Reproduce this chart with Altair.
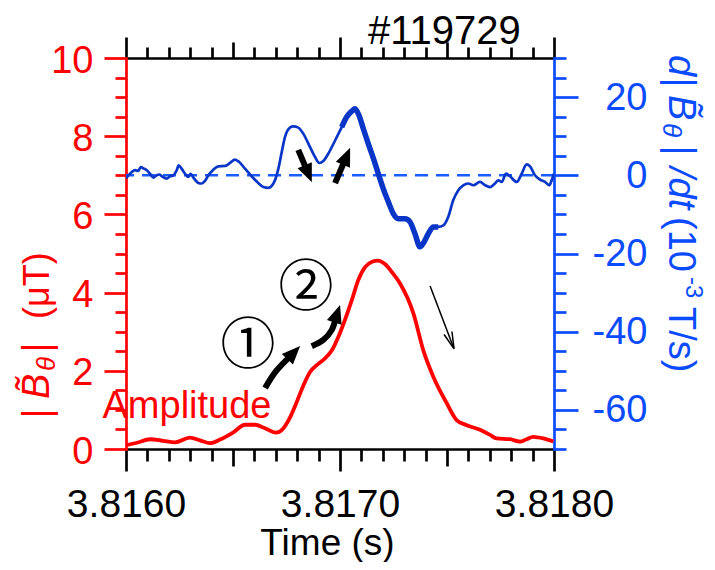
import math
import altair as alt
import pandas as pd

# ---------------- data ----------------
amp_time = [3.816000, 3.816051, 3.816112, 3.816173, 3.816229, 3.816299, 3.816346, 3.816393,
            3.816439, 3.816500, 3.816556, 3.816603, 3.816650, 3.816701, 3.816734, 3.816766,
            3.816794, 3.816827, 3.816860, 3.816897, 3.816930, 3.816963, 3.816991, 3.817023,
            3.817056, 3.817084, 3.817117, 3.817150, 3.817178, 3.817210, 3.817243, 3.817280,
            3.817343, 3.817389, 3.817436, 3.817499, 3.817545, 3.817592, 3.817654, 3.817701,
            3.817732, 3.817794, 3.817841, 3.817872, 3.817903, 3.817950, 3.817997]
amp_value = [0.10, 0.16, 0.25, 0.21, 0.17, 0.29, 0.22, 0.15,
             0.24, 0.42, 0.62, 0.62, 0.53, 0.42, 0.52, 0.80,
             1.15, 1.60, 1.97, 2.17, 2.32, 2.53, 2.85, 3.30,
             3.82, 4.30, 4.65, 4.79, 4.82, 4.73, 4.52, 4.24,
             3.47, 2.53, 1.85, 1.17, 0.74, 0.61, 0.49, 0.36,
             0.27, 0.25, 0.19, 0.25, 0.31, 0.27, 0.19]

dbdt_time = [3.816000, 3.816027, 3.816042, 3.816057, 3.816069, 3.816084, 3.816097, 3.816112,
             3.816128, 3.816143, 3.816156, 3.816167, 3.816178, 3.816190, 3.816206, 3.816221,
             3.816237, 3.816246, 3.816260, 3.816276, 3.816291, 3.816302, 3.816315, 3.816338,
             3.816354, 3.816369, 3.816385, 3.816408, 3.816431, 3.816463, 3.816486, 3.816509,
             3.816529, 3.816556, 3.816587, 3.816618, 3.816642, 3.816665, 3.816696, 3.816712,
             3.816728, 3.816743, 3.816766, 3.816782, 3.816805, 3.816829, 3.816860, 3.816883,
             3.816903, 3.816922, 3.816945, 3.816977, 3.817008, 3.817031, 3.817055, 3.817070,
             3.817089, 3.817109, 3.817132, 3.817156, 3.817179, 3.817202, 3.817226, 3.817249,
             3.817272, 3.817304, 3.817327, 3.817350, 3.817374, 3.817389, 3.817413, 3.817436,
             3.817459, 3.817483, 3.817506, 3.817529, 3.817553, 3.817576, 3.817600, 3.817623,
             3.817654, 3.817678, 3.817701, 3.817724, 3.817740, 3.817756, 3.817776, 3.817794,
             3.817826, 3.817849, 3.817872, 3.817888, 3.817911, 3.817935, 3.817958, 3.817978,
             3.817989, 3.818000]
dbdt_value = [-0.8, 0.85, 1.3, 1.1, 2.1, 1.7, 1.3, 0.4,
              -0.6, 0.0, 0.2, -0.2, -0.6, -0.85, -0.25, 0.0,
              1.3, 2.55, 1.7, 0.4, -0.4, 0.4, -0.6, -1.95,
              -2.1, -1.45, 0.0, 1.45, 2.3, 2.4, 3.15, 4.0,
              3.4, 1.7, -0.25, -1.95, -3.0, -3.2, -1.3, 1.7,
              6.0, 9.8, 12.2, 12.5, 12.2, 10.6, 7.2, 4.7,
              3.15, 3.65, 5.5, 8.9, 12.3, 14.9, 16.4, 17.0,
              15.3, 11.9, 8.1, 4.3, 0.4, -3.4, -6.8, -9.8,
              -11.1, -11.1, -11.9, -14.9, -18.3, -17.4, -14.9, -13.2,
              -13.2, -12.8, -10.6, -6.4, -3.8, -2.55, -2.1, -2.55,
              -1.7, -2.55, -3.0, -2.1, -1.3, -1.7, 0.43, -0.25,
              -1.7, 0.4, 2.8, 2.3, 0.0, -1.1, -1.7, -2.55,
              -1.3, 0.4]

x_tick_values = [3.8160, 3.8161, 3.8162, 3.8163, 3.8164, 3.8165, 3.8166, 3.8167, 3.8168, 3.8169,
                 3.8170, 3.8171, 3.8172, 3.8173, 3.8174, 3.8175, 3.8176, 3.8177, 3.8178, 3.8179,
                 3.8180]
left_tick_values = [0, 0.5, 1, 1.5, 2, 2.5, 3, 3.5, 4, 4.5, 5, 5.5, 6, 6.5, 7, 7.5, 8, 8.5, 9, 9.5, 10]
right_tick_values = [-70, -65, -60, -55, -50, -45, -40, -35, -30, -25, -20, -15, -10, -5,
                     0, 5, 10, 15, 20, 25, 30]

# annotation arrows (time, amplitude-axis units)
arrow1_time = [3.816650, 3.816701, 3.816813]
arrow1_amp = [1.56, 1.99, 2.63]
arrow2_time = [3.816868, 3.816922, 3.816961, 3.817000]
arrow2_amp = [2.63, 2.79, 3.04, 3.68]
arrow3_time = [3.816805, 3.816868]
arrow3_amp = [7.65, 6.83]
arrow4_time = [3.816977, 3.817047]
arrow4_amp = [6.80, 7.70]
arrow5_time = [3.817421, 3.817533]
arrow5_amp = [4.17, 2.56]

thick_from, thick_to = 3.816990, 3.817470

# ---------------- styling ----------------
W, H = 428, 391
X_DOM = [3.816, 3.818]
L_DOM = [0, 10]
R_DOM = [-70, 30]
FONT = "Liberation Sans"
RED = "#ff0000"
BLUE_AX = "#0a4bff"
BLUE_LINE = "#0a36c8"
BLUE_DASH = "#1a5cff"
PX_S = W / (X_DOM[1] - X_DOM[0])
PX_A = H / (L_DOM[1] - L_DOM[0])

xs = alt.Scale(domain=X_DOM, nice=False, zero=False)
ls = alt.Scale(domain=L_DOM, nice=False, zero=False)
rs = alt.Scale(domain=R_DOM, nice=False, zero=False)

MAJ = "abs(datum.value*1000 - round(datum.value*1000)) < 1e-6"
MID = "abs(datum.value*2000 - round(datum.value*2000)) < 1e-6"

bottom_axis = alt.Axis(
    orient="bottom", values=x_tick_values, grid=False,
    domainColor="black", domainWidth=2.7, domainCap="square",
    tickColor="black", tickWidth=2.7,
    tickSize={"condition": [{"test": MAJ, "value": 22}, {"test": MID, "value": 17}], "value": 12},
    labelExpr=f"{MAJ} ? format(datum.value, '.4f') : ''",
    labelFont=FONT, labelFontSize=39, labelColor="black", labelPadding=14,
    labelFlush=False, labelOverlap=False,
    title="Time (s)", titleFont=FONT, titleFontSize=37, titleFontWeight="normal",
    titleColor="black", titleX=201, titleY=105, titleBaseline="alphabetic", titleAlign="center",
)
top_axis = alt.Axis(
    orient="top", values=x_tick_values, grid=False, labels=False, title=None,
    domainColor="black", domainWidth=2.7, domainCap="square",
    tickColor="black", tickWidth=2.7,
    tickSize={"condition": [{"test": MAJ, "value": 21}, {"test": MID, "value": 16}], "value": 11},
)
left_axis = alt.Axis(
    orient="left", values=left_tick_values, grid=False, title=None,
    domainColor=RED, domainWidth=2.7, domainCap="square",
    tickColor=RED, tickWidth=2.7,
    tickSize={"condition": {"test": "datum.value % 2 === 0", "value": 22}, "value": 11},
    labelExpr="datum.value % 2 === 0 ? '' + datum.value : ''",
    labelFont=FONT, labelFontSize=38, labelColor=RED, labelPadding=11,
    labelFlush=False, labelOverlap=False, labelOffset=3,
)
right_axis = alt.Axis(
    orient="right", values=right_tick_values, grid=False, title=None,
    domainColor=BLUE_AX, domainWidth=2.7, domainCap="square",
    tickColor=BLUE_AX, tickWidth=2.7,
    tickSize={"condition": {"test": "datum.value % 20 === 0", "value": 24}, "value": 12},
    labelExpr="datum.value % 20 !== 0 ? '' : (datum.value < 0 ? '-' + abs(datum.value) : (datum.value === 0 ? '0\u00a0\u00a0' : '' + datum.value))",
    labelFont=FONT, labelFontSize=38, labelColor=BLUE_AX, labelPadding=69, labelAlign="right",
    labelFlush=False, labelOverlap=False, labelOffset=1,
)

amp_df = pd.DataFrame({"time": amp_time, "amp": amp_value})
dbdt_df = pd.DataFrame({"time": dbdt_time, "dbdt": dbdt_value})

blue_thin = alt.Chart(dbdt_df).mark_line(
    color=BLUE_LINE, strokeWidth=2.7, interpolate="monotone", clip=True
).encode(
    x=alt.X("time:Q", scale=xs, axis=top_axis),
    y=alt.Y("dbdt:Q", scale=rs, axis=right_axis),
)
blue_thick = alt.Chart(dbdt_df).transform_filter(
    f"datum.time >= {thick_from} && datum.time <= {thick_to}"
).mark_line(color=BLUE_LINE, strokeWidth=5.5, interpolate="monotone").encode(
    x=alt.X("time:Q", scale=xs, axis=None),
    y=alt.Y("dbdt:Q", scale=rs, axis=None),
)
zero_line = alt.Chart(alt.Data(values=[{}])).mark_rule(
    color=BLUE_DASH, strokeWidth=2.5, strokeDash=[13, 8]
).encode(y=alt.YDatum(0, scale=rs, axis=None))

red_line = alt.Chart(amp_df).mark_line(
    color=RED, strokeWidth=3.8, interpolate="monotone"
).encode(
    x=alt.X("time:Q", scale=xs, axis=bottom_axis),
    y=alt.Y("amp:Q", scale=ls, axis=left_axis),
)


def arrow(ts, vs, width, head_path, head_size, head_back, shaft_back, filled):
    dx = (ts[-1] - ts[-2]) * PX_S
    dy = -(vs[-1] - vs[-2]) * PX_A
    L = math.hypot(dx, dy)
    ux, uy = dx / L, dy / L
    ang = math.degrees(math.atan2(ux, -uy)) % 360
    neck_t = ts[-1] - ux * shaft_back / PX_S
    neck_v = vs[-1] + uy * shaft_back / PX_A
    head_t = ts[-1] - ux * head_back / PX_S
    head_v = vs[-1] + uy * head_back / PX_A
    shaft = pd.DataFrame({"t": list(ts[:-1]) + [neck_t], "v": list(vs[:-1]) + [neck_v],
                          "o": list(range(len(ts)))})
    head = pd.DataFrame({"t": [head_t], "v": [head_v], "a": [ang]})
    s = alt.Chart(shaft).mark_line(color="black", strokeWidth=width, interpolate="catmull-rom",
                                   strokeCap="butt").encode(
        x=alt.X("t:Q", scale=xs, axis=None), y=alt.Y("v:Q", scale=ls, axis=None), order="o:Q")
    if filled:
        hm = alt.Chart(head).mark_point(shape=head_path, size=head_size, filled=True,
                                        color="black", opacity=1, strokeWidth=0)
    else:
        hm = alt.Chart(head).mark_point(shape=head_path, size=head_size, filled=False,
                                        color="black", opacity=1, strokeWidth=width)
    h = hm.encode(x=alt.X("t:Q", scale=xs, axis=None), y=alt.Y("v:Q", scale=ls, axis=None),
                  angle=alt.Angle("a:Q", scale=None))
    return [s, h]


THICK_HEAD = "M0,-1L0.75,0.8L-0.75,0.8Z"
THIN_HEAD = "M-0.42,0.7L0,-1L0.42,0.7"
arrows = []
for ts, vs in [(arrow1_time, arrow1_amp), (arrow2_time, arrow2_amp),
               (arrow3_time, arrow3_amp), (arrow4_time, arrow4_amp)]:
    arrows += arrow(ts, vs, 6, THICK_HEAD, 420, 10, 12, True)
arrows += arrow(arrow5_time, arrow5_amp, 1.5, THIN_HEAD, 400, 10, 1, False)


def txt(text, x, y, size, color="black", angle=0, italic=False, align="left",
        baseline="alphabetic", dx=0, dy=0, font=FONT):
    return alt.Chart(alt.Data(values=[{}])).mark_text(
        text=text, fontSize=size, color=color, angle=angle, font=font,
        fontStyle="italic" if italic else "normal", align=align, baseline=baseline,
        dx=dx, dy=dy,
    ).encode(x=alt.value(x), y=alt.value(y))


texts = [
    txt("#119729", 242, -14, 40),
    txt("Amplitude", 61, 360, 38, RED, align="center"),
    txt("\u2460", 122, 288, 55, align="center", baseline="middle", font="Noto Sans CJK JP"),
    txt("\u2461", 180, 230, 55, align="center", baseline="middle", font="Noto Sans CJK JP"),
]
# left axis title  |B~theta|  (muT), reading upward
LX, LY = -88, 361
texts += [
    txt("|", LX, LY, 38, RED, 270, True, baseline="middle", dx=0),
    txt("B\u0303", LX, LY, 38, RED, 270, True, baseline="middle", dx=20),
    txt("\u03b8", LX, LY, 26, RED, 270, True, baseline="middle", dx=48, dy=9),
    txt("|", LX, LY, 38, RED, 270, True, baseline="middle", dx=66),
    txt("(\u03bcT)", LX, LY, 36, RED, 270, False, baseline="middle", dx=100),
]
# right axis title  d|B~theta| /dt  (10^-3 T/s), reading downward
RX, RY = 554, -3
texts += [
    txt("d", RX, RY, 38, BLUE_AX, 90, True, baseline="middle", dx=0),
    txt("|", RX, RY, 38, BLUE_AX, 90, True, baseline="middle", dx=22),
    txt("B\u0303", RX, RY, 38, BLUE_AX, 90, True, baseline="middle", dx=40),
    txt("\u03b8", RX, RY, 26, BLUE_AX, 90, True, baseline="middle", dx=68, dy=9),
    txt("|", RX, RY, 38, BLUE_AX, 90, True, baseline="middle", dx=90),
    txt("/dt", RX, RY, 38, BLUE_AX, 90, True, baseline="middle", dx=112),
    txt("(10", RX, RY, 38, BLUE_AX, 90, False, baseline="middle", dx=162),
    txt("-3", RX, RY, 24, BLUE_AX, 90, False, baseline="middle", dx=222, dy=-13),
    txt("T/s)", RX, RY, 38, BLUE_AX, 90, False, baseline="middle", dx=252),
]

chart = alt.layer(
    zero_line, blue_thin, blue_thick, red_line, *arrows, *texts
).resolve_scale(y="independent").resolve_axis(x="independent", y="independent").properties(
    width=W, height=H,
    padding={"left": 118, "top": 50, "right": 153, "bottom": 113},
    autosize=alt.AutoSizeParams(type="none"),
).configure_view(stroke=None)

chart.save("out.html", embed_options={"renderer": "svg", "actions": False})
